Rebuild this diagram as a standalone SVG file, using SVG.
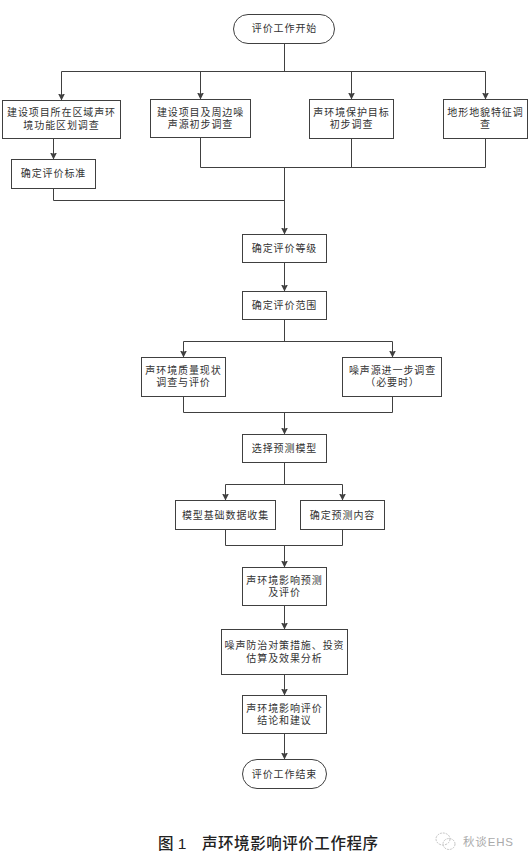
<svg xmlns="http://www.w3.org/2000/svg" width="530" height="865" viewBox="0 0 530 865">
<style>
.b{fill:#fff;stroke:#404040;stroke-width:1}
.c{fill:none;stroke:#404040;stroke-width:1}
.a{marker-end:url(#ah)}
text{font-family:"Liberation Sans","Noto Sans CJK SC",sans-serif}
.t{font-size:10px;letter-spacing:.9px;fill:#333;text-anchor:middle}
.title{font-size:15.5px;font-weight:500;fill:#222}
.w{font-size:11.5px;fill:#aaa}
</style>
<defs><marker id="ah" markerUnits="userSpaceOnUse" markerWidth="8" markerHeight="8" refX="6.5" refY="3.5" orient="auto"><path d="M0 0L7 3.5L0 7L1.2 3.5Z" fill="#404040"/></marker></defs>
<rect width="530" height="865" fill="#fff"/>
<g id="connectors">
<path class="c" d="M284.5 43.5V71.5M61.5 71.5H485.5"/>
<path class="c a" d="M61.5 71.5V100"/>
<path class="c a" d="M200.5 71.5V99"/>
<path class="c a" d="M351.5 71.5V99"/>
<path class="c a" d="M485.5 71.5V99"/>
<path class="c a" d="M53.5 138.5V159"/>
<path class="c" d="M200.5 137.5V167.5H485.5V138.5M351.5 138.5V167.5M53.5 188.5V200.5H284.5"/>
<path class="c a" d="M284.5 167.5V234"/>
<path class="c a" d="M284.5 262.5V291"/>
<path class="c" d="M284.5 319.5V341.5M183.5 341.5H392.5"/>
<path class="c a" d="M183.5 341.5V357"/>
<path class="c a" d="M392.5 341.5V357"/>
<path class="c" d="M183.5 396.5V412.5H392.5V396.5"/>
<path class="c a" d="M284.5 412.5V434"/>
<path class="c" d="M284.5 462.5V484.5M225.5 484.5H342.5"/>
<path class="c a" d="M225.5 484.5V500"/>
<path class="c a" d="M342.5 484.5V500"/>
<path class="c" d="M225.5 529.5V545.5H342.5V529.5"/>
<path class="c a" d="M284.5 545.5V567"/>
<path class="c a" d="M284.5 605.5V629"/>
<path class="c a" d="M284.5 674.5V695"/>
<path class="c a" d="M284.5 733.5V759"/>
</g>
<g id="start"><rect class="b" x="233.5" y="14.5" width="101" height="29" rx="14.5"/><text class="t" x="284.5" y="31.5">评价工作开始</text></g>
<g id="n1"><rect class="b" x="2.5" y="100.5" width="118" height="38"/><text class="t" x="61.5" y="116">建设项目所在区域声环</text><text class="t" x="61.5" y="129">境功能区划调查</text></g>
<g id="n2"><rect class="b" x="150.5" y="99.5" width="100" height="38"/><text class="t" x="200.5" y="116">建设项目及周边噪</text><text class="t" x="200.5" y="128">声源初步调查</text></g>
<g id="n3"><rect class="b" x="309.5" y="99.5" width="84" height="39"/><text class="t" x="351.5" y="116">声环境保护目标</text><text class="t" x="351.5" y="128">初步调查</text></g>
<g id="n4"><rect class="b" x="443.5" y="99.5" width="84" height="39"/><text class="t" x="485.5" y="116">地形地貌特征调</text><text class="t" x="485.5" y="128">查</text></g>
<g id="n5"><rect class="b" x="11.5" y="159.5" width="84" height="29"/><text class="t" x="53.5" y="177">确定评价标准</text></g>
<g id="n6"><rect class="b" x="242.5" y="234.5" width="84" height="28"/><text class="t" x="284.5" y="252">确定评价等级</text></g>
<g id="n7"><rect class="b" x="242.5" y="291.5" width="84" height="28"/><text class="t" x="284.5" y="309">确定评价范围</text></g>
<g id="n8"><rect class="b" x="141.5" y="357.5" width="84" height="39"/><text class="t" x="183.5" y="374">声环境质量现状</text><text class="t" x="183.5" y="386">调查与评价</text></g>
<g id="n9"><rect class="b" x="342.5" y="357.5" width="99" height="39"/><text class="t" x="392.5" y="374">噪声源进一步调查</text><text class="t" x="392.5" y="386">（必要时）</text></g>
<g id="n10"><rect class="b" x="242.5" y="434.5" width="84" height="28"/><text class="t" x="284.5" y="452">选择预测模型</text></g>
<g id="n11"><rect class="b" x="175.5" y="500.5" width="100" height="29"/><text class="t" x="225.5" y="519">模型基础数据收集</text></g>
<g id="n12"><rect class="b" x="300.5" y="500.5" width="84" height="29"/><text class="t" x="342.5" y="519">确定预测内容</text></g>
<g id="n13"><rect class="b" x="242.5" y="567.5" width="84" height="38"/><text class="t" x="284.5" y="584">声环境影响预测</text><text class="t" x="284.5" y="596">及评价</text></g>
<g id="n14"><rect class="b" x="221.5" y="629.5" width="126" height="45"/><text class="t" x="284.5" y="649">噪声防治对策措施、投资</text><text class="t" x="284.5" y="662">估算及效果分析</text></g>
<g id="n15"><rect class="b" x="242.5" y="695.5" width="84" height="38"/><text class="t" x="284.5" y="712">声环境影响评价</text><text class="t" x="284.5" y="724">结论和建议</text></g>
<g id="end"><rect class="b" x="242.5" y="759.5" width="84" height="29" rx="14.5"/><text class="t" x="284.5" y="778">评价工作结束</text></g>
<text class="title" x="158" y="849">图 1</text>
<text class="title" x="202" y="849" textLength="176">声环境影响评价工作程序</text>
<g id="watermark" fill="none" stroke="#c4c4c4" stroke-width="1" stroke-dasharray="2 1"><ellipse cx="443" cy="839" rx="7" ry="6"/><ellipse cx="449" cy="844" rx="6" ry="5.5"/></g>
<text class="w" x="463" y="846" textLength="50">秋谈EHS</text>
</svg>
